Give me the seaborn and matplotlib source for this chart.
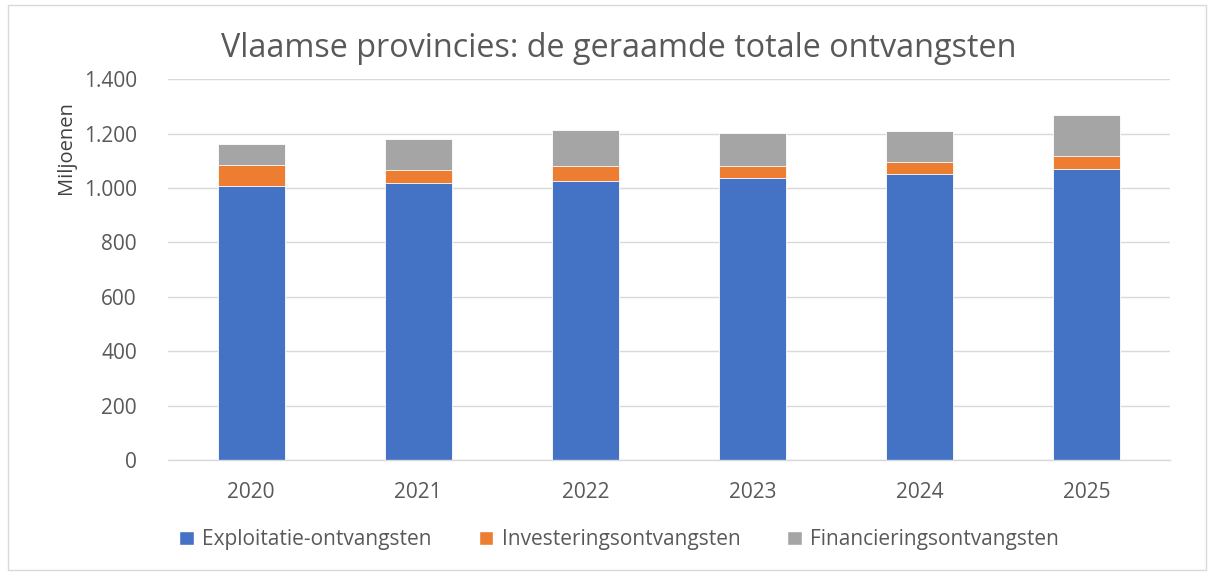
import matplotlib
matplotlib.use('Agg')
import matplotlib.pyplot as plt
import seaborn as sns
import pandas as pd
from matplotlib.ticker import FuncFormatter, MultipleLocator
from matplotlib.patches import Rectangle, Patch

years = ['2020', '2021', '2022', '2023', '2024', '2025']
exploitatie = [1006, 1017, 1027, 1038, 1053, 1069]
investering = [80, 48, 55, 44, 43, 49]
financiering = [75, 115, 130, 121, 114, 150]

labels = ['Exploitatie-ontvangsten', 'Investeringsontvangsten', 'Financieringsontvangsten']
colors = ['#4472C4', '#ED7D31', '#A5A5A5']

df = pd.DataFrame({'Jaar': years, 'Expl': exploitatie, 'Inv': investering, 'Fin': financiering})
df['cum_inv'] = df['Expl'] + df['Inv']
df['cum_fin'] = df['cum_inv'] + df['Fin']

sns.set_style('white')
plt.rcParams['font.family'] = ['Open Sans', 'DejaVu Sans']

fig = plt.figure(figsize=(12.14, 5.73), dpi=100)
ax = fig.add_axes([0.138, 0.197, 0.826, 0.665])

# stacked bars: draw cumulative totals from the top down
for col, color in zip(['cum_fin', 'cum_inv', 'Expl'], colors[::-1]):
    sns.barplot(data=df, x='Jaar', y=col, color=color, width=0.4, ax=ax,
                saturation=1, edgecolor='white', linewidth=0.6)

ax.set_ylim(0, 1400)
ax.yaxis.set_major_locator(MultipleLocator(200))
ax.yaxis.set_major_formatter(FuncFormatter(lambda v, p: f'{int(v):,}'.replace(',', '.')))
ax.grid(axis='y', color='#d9d9d9', linewidth=1)
ax.set_axisbelow(True)
for s in ['left', 'right', 'top']:
    ax.spines[s].set_visible(False)
ax.spines['bottom'].set_color('#d9d9d9')
ax.spines['bottom'].set_linewidth(1)
ax.tick_params(axis='y', length=0, labelsize=15, labelcolor='#595959', pad=22)
ax.tick_params(axis='x', length=0, labelsize=15, labelcolor='#595959', pad=16)
ax.set_xlabel('')
ax.set_ylabel('Miljoenen', fontsize=14.5, color='#404040')
ax.yaxis.set_label_coords(-0.091, 0.82)

fig.text(0.51, 0.915, 'Vlaamse provincies: de geraamde totale ontvangsten',
         ha='center', va='center', fontsize=23.3, color='#595959')

handles = [Patch(facecolor=c, label=l) for c, l in zip(colors, labels)]
fig.legend(handles=handles, loc='center', bbox_to_anchor=(0.51, 0.058), ncol=3,
           frameon=False, fontsize=15, handlelength=0.7, handleheight=0.7,
           columnspacing=2.25, handletextpad=0.4, labelcolor='#595959')

fig.patches.append(Rectangle((0.007, 0.006), 0.986, 0.985, transform=fig.transFigure,
                             fill=False, edgecolor='#d9d9d9', linewidth=1))

fig.savefig('out.png', dpi=100)
